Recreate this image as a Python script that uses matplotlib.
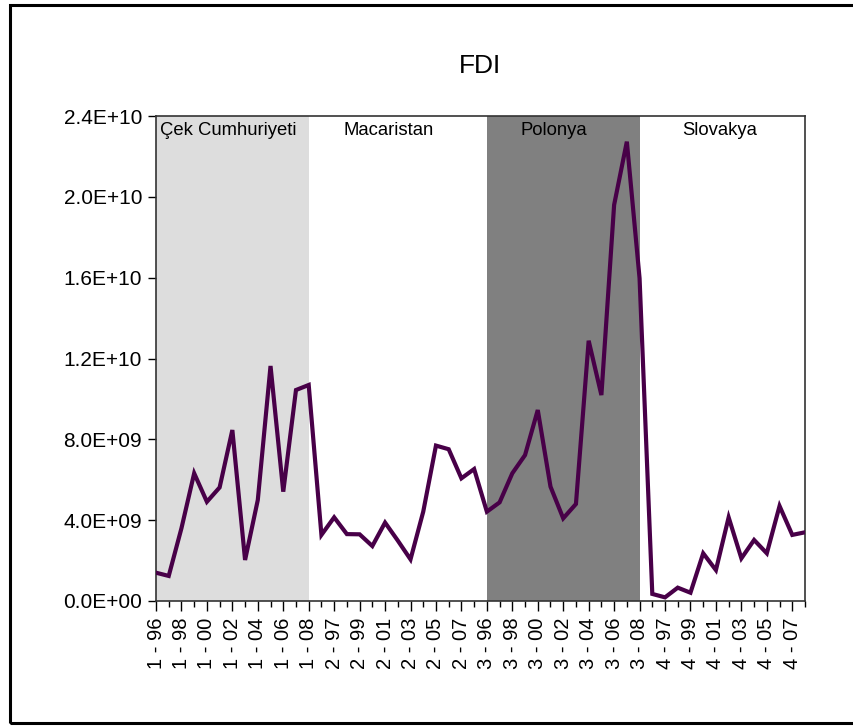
import numpy as np
import matplotlib.pyplot as plt
from matplotlib.patches import Rectangle
from matplotlib.ticker import FuncFormatter, MultipleLocator

plt.rcParams['font.family'] = ['Liberation Sans', 'DejaVu Sans']

# FDI panel, 4 countries, yearly 1996-2008
countries = ['Çek Cumhuriyeti', 'Macaristan', 'Polonya', 'Slovakya']
years = ['96', '97', '98', '99', '00', '01', '02', '03', '04', '05', '06', '07', '08']
shade = ['#dddddd', '#ffffff', '#808080', '#ffffff']

fdi_cek = [1.40e9, 1.24e9, 3.6e9, 6.32e9, 4.91e9, 5.62e9, 8.46e9, 2.03e9, 5.0e9, 11.63e9, 5.41e9, 10.44e9, 10.69e9]
fdi_mac = [3.27e9, 4.14e9, 3.31e9, 3.30e9, 2.72e9, 3.88e9, 2.99e9, 2.06e9, 4.42e9, 7.69e9, 7.51e9, 6.07e9, 6.53e9]
fdi_pol = [4.42e9, 4.88e9, 6.32e9, 7.22e9, 9.45e9, 5.66e9, 4.09e9, 4.80e9, 12.88e9, 10.19e9, 19.6e9, 22.73e9, 15.97e9]
fdi_slo = [0.35e9, 0.18e9, 0.66e9, 0.41e9, 2.36e9, 1.53e9, 4.14e9, 2.11e9, 3.02e9, 2.36e9, 4.70e9, 3.27e9, 3.40e9]

series = [fdi_cek, fdi_mac, fdi_pol, fdi_slo]
y = np.concatenate(series)
x = np.arange(len(y))
labels = [f'{i + 1} - {yr}' for i in range(len(countries)) for yr in years]
n = len(years)

fig = plt.figure(figsize=(8.54, 7.26), dpi=100)
ax = fig.add_axes([156 / 854, 1 - 601 / 726, 649 / 854, 485 / 726])

# shaded blocks span first to last obs of each country
for i, name in enumerate(countries):
    x0, x1 = i * n, (i + 1) * n - 1
    if shade[i] != '#ffffff':
        ax.axvspan(x0, x1, color=shade[i], lw=0, zorder=0)
    if i == 0:
        ax.text(x0 + 0.3, 2.33e10, name, fontsize=13.3, ha='left', va='center')
    else:
        ax.text((x0 + x1) / 2 - 0.7, 2.33e10, name, fontsize=13.3, ha='center', va='center')

ax.plot(x, y, color='#480048', lw=3, zorder=3, solid_joinstyle='miter')

ax.set_xlim(0, len(y) - 1)
ax.set_ylim(0, 2.4e10)
ax.yaxis.set_major_locator(MultipleLocator(4e9))
ax.yaxis.set_major_formatter(FuncFormatter(lambda v, p: f'{v:.1E}'))
ax.set_xticks(x[::2])
ax.set_xticklabels(labels[::2], rotation=90)
ax.set_xticks(x[1::2], minor=True)
ax.tick_params(axis='x', which='major', length=7, width=1, labelsize=14.5, pad=5)
ax.tick_params(axis='x', which='minor', length=4, width=1)
ax.tick_params(axis='y', length=6, width=1, labelsize=15, pad=4)
for s in ax.spines.values():
    s.set_linewidth(1.2)
    s.set_color('#333333')

fig.text(480 / 854, 1 - 66 / 726, 'FDI', fontsize=19, ha='center', va='center')

# outer frame
fig.patches.append(Rectangle((10 / 854, 1 - 723 / 726), 1.0, 718 / 726,
                             transform=fig.transFigure, fill=False, lw=2.2,
                             edgecolor='black'))

fig.savefig('out.png', dpi=100)
